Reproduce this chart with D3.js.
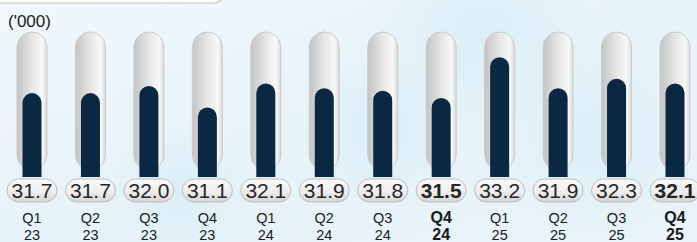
<!DOCTYPE html>
<html lang="en">
<head>
<meta charset="UTF-8">
<title>Quarterly values</title>
<script src="https://d3js.org/d3.v7.min.js"></script>
<style>
  html, body { margin: 0; padding: 0; }
  body { width: 697px; height: 242px; overflow: hidden; }
  text { font-family: "Liberation Sans", Arial, sans-serif; }
</style>
</head>
<body>
<svg width="697" height="242"></svg>
<script>
  // data
  const quarters = ["Q1", "Q2", "Q3", "Q4", "Q1", "Q2", "Q3", "Q4", "Q1", "Q2", "Q3", "Q4"];
  const years = ["23", "23", "23", "23", "24", "24", "24", "24", "25", "25", "25", "25"];
  const values = [31.7, 31.7, 32.0, 31.1, 32.1, 31.9, 31.8, 31.5, 33.2, 31.9, 32.3, 32.1];
  const highlight = [false, false, false, false, false, false, false, true, false, false, false, true];
  const unitLabel = "('000)";

  const W = 697, H = 242;
  const svg = d3.select("svg");
  const defs = svg.append("defs");

  // background
  const bg = defs.append("linearGradient").attr("id", "bg")
    .attr("x1", 0).attr("y1", 0).attr("x2", 1).attr("y2", 1);
  bg.append("stop").attr("offset", 0).attr("stop-color", "#f1f8fc");
  bg.append("stop").attr("offset", 0.5).attr("stop-color", "#e6f3f9");
  bg.append("stop").attr("offset", 1).attr("stop-color", "#e9f4fa");
  svg.append("rect").attr("width", W).attr("height", H).attr("fill", "url(#bg)");

  const blob = defs.append("radialGradient").attr("id", "blob");
  blob.append("stop").attr("offset", 0).attr("stop-color", "#d6ecf6").attr("stop-opacity", 0.7);
  blob.append("stop").attr("offset", 1).attr("stop-color", "#d6ecf6").attr("stop-opacity", 0);
  [[480, 30, 110], [600, 140, 100], [380, 130, 80], [180, 190, 70]].forEach(b => {
    svg.append("circle").attr("cx", b[0]).attr("cy", b[1]).attr("r", b[2]).attr("fill", "url(#blob)");
  });

  // white panel at top-left
  svg.append("path")
    .attr("d", "M-2,-2 H222 V-6 Q222,3 213,3 H-2 Z")
    .attr("fill", "#ffffff");
  svg.append("path")
    .attr("d", "M-2,3 H213 Q222,3 222,-4")
    .attr("fill", "none").attr("stroke", "#c4c4c4").attr("stroke-width", 1.2);

  svg.append("text").attr("x", 8).attr("y", 27)
    .attr("font-size", 17).attr("fill", "#1a1a1a").text(unitLabel);

  // scales
  const idx = d3.range(values.length);
  const x = d3.scalePoint().domain(idx).range([32, 675]);
  const y = d3.scaleLinear().domain([28.2, 34.25]).range([177, 32]);

  // gradients
  const tubeG = defs.append("linearGradient").attr("id", "tube")
    .attr("x1", 0).attr("y1", 0).attr("x2", 1).attr("y2", 0);
  tubeG.append("stop").attr("offset", 0).attr("stop-color", "#c4c4c4");
  tubeG.append("stop").attr("offset", 0.5).attr("stop-color", "#e6e6e6");
  tubeG.append("stop").attr("offset", 0.85).attr("stop-color", "#f8f8f8");
  tubeG.append("stop").attr("offset", 1).attr("stop-color", "#d8d8d8");

  const pillG = defs.append("linearGradient").attr("id", "pill")
    .attr("x1", 0).attr("y1", 0).attr("x2", 0).attr("y2", 1);
  pillG.append("stop").attr("offset", 0).attr("stop-color", "#fbfbfb");
  pillG.append("stop").attr("offset", 0.6).attr("stop-color", "#ececec");
  pillG.append("stop").attr("offset", 1).attr("stop-color", "#d4d4d4");

  const tubeW = 30, barW = 19, tubeTop = 32, baseY = y.range()[0];

  const g = svg.append("g").selectAll("g").data(idx).join("g");

  // glass tubes
  g.append("rect")
    .attr("x", i => x(i) - tubeW / 2).attr("y", tubeTop)
    .attr("width", tubeW).attr("height", 170 - tubeTop)
    .attr("rx", tubeW / 2)
    .attr("fill", "url(#tube)").attr("stroke", "#cbcbcb").attr("stroke-width", 1);

  // dark bars, round top, flat bottom
  g.append("path")
    .attr("d", i => {
      const r = barW / 2, cx = x(i), top = y(values[i]);
      return `M${cx - r},${baseY} V${top + r} A${r},${r} 0 0 1 ${cx + r},${top + r} V${baseY} Z`;
    })
    .attr("fill", "#0b2843");

  // value pills
  g.append("rect")
    .attr("x", i => x(i) - 25).attr("y", 179)
    .attr("width", 50).attr("height", 23).attr("rx", 11.5)
    .attr("fill", "url(#pill)").attr("stroke", "#bcbcbc").attr("stroke-width", 1);

  g.append("text")
    .attr("x", i => x(i)).attr("y", 198)
    .attr("text-anchor", "middle").attr("font-size", 21)
    .attr("font-weight", i => highlight[i] ? "bold" : "normal")
    .attr("fill", "#262626")
    .text(i => values[i].toFixed(1));

  // category labels
  g.append("text")
    .attr("x", i => x(i)).attr("y", 223)
    .attr("text-anchor", "middle").attr("font-size", i => highlight[i] ? 16 : 14.5)
    .attr("font-weight", i => highlight[i] ? "bold" : "normal")
    .attr("fill", "#1a1a1a")
    .text(i => quarters[i]);

  g.append("text")
    .attr("x", i => x(i)).attr("y", 240)
    .attr("text-anchor", "middle").attr("font-size", i => highlight[i] ? 16 : 14.5)
    .attr("font-weight", i => highlight[i] ? "bold" : "normal")
    .attr("fill", "#1a1a1a")
    .text(i => years[i]);
</script>
</body>
</html>
